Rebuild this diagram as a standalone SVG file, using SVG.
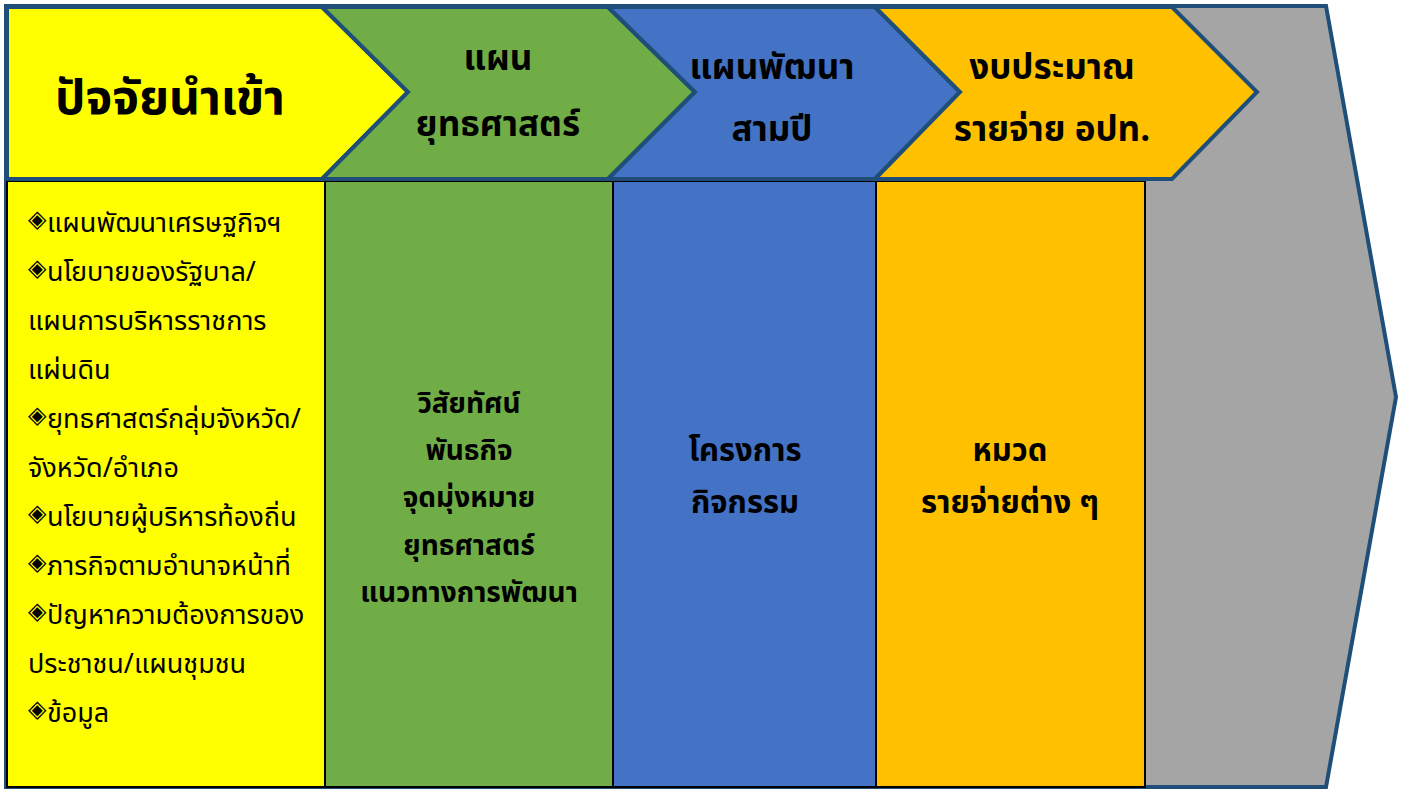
<svg xmlns="http://www.w3.org/2000/svg" width="1406" height="789" viewBox="0 0 1406 789">
<style>
.hd{stroke:#1F4E79;stroke-width:4;stroke-linejoin:miter}
.col{stroke:#000;stroke-width:2}
text{font-family:"Noto Sans Thai","Noto Sans","DejaVu Sans",sans-serif;fill:#000}
.h{font-size:35px;font-weight:bold;text-anchor:middle}
.b{font-size:28px;font-weight:bold;text-anchor:middle}
.b2{font-size:31px;font-weight:bold;text-anchor:middle}
.l{font-size:27px}
.bu{font-size:24px}
</style>
<rect width="1406" height="789" fill="#fff"/>
<g id="big-arrow">
<polygon class="hd" fill="#A5A5A5" points="6,6 1326,6 1396,397 1326,787 6,787"/>
</g>
<g id="col-input">
<rect class="col" fill="#FFFF00" x="7" y="181" width="318" height="606"/>
<text class="bu" x="28" y="227">◈</text>
<text class="l" x="47" y="232">แผนพัฒนาเศรษฐกิจฯ</text>
<text class="bu" x="28" y="276">◈</text>
<text class="l" x="47" y="281">นโยบายของรัฐบาล/</text>
<text class="l" x="28" y="330">แผนการบริหารราชการ</text>
<text class="l" x="28" y="379">แผ่นดิน</text>
<text class="bu" x="28" y="423">◈</text>
<text class="l" x="47" y="428">ยุทธศาสตร์กลุ่มจังหวัด/</text>
<text class="l" x="28" y="477">จังหวัด/อำเภอ</text>
<text class="bu" x="28" y="521">◈</text>
<text class="l" x="47" y="526">นโยบายผู้บริหารท้องถิ่น</text>
<text class="bu" x="28" y="570">◈</text>
<text class="l" x="47" y="575">ภารกิจตามอำนาจหน้าที่</text>
<text class="bu" x="28" y="619">◈</text>
<text class="l" x="47" y="624">ปัญหาความต้องการของ</text>
<text class="l" x="28" y="673">ประชาชน/แผนชุมชน</text>
<text class="bu" x="28" y="717">◈</text>
<text class="l" x="47" y="722">ข้อมูล</text>
</g>
<g id="col-strategy">
<rect class="col" fill="#70AD47" x="325" y="181" width="288" height="606"/>
<text class="b" x="469" y="413">วิสัยทัศน์</text>
<text class="b" x="469" y="460">พันธกิจ</text>
<text class="b" x="469" y="507">จุดมุ่งหมาย</text>
<text class="b" x="469" y="555">ยุทธศาสตร์</text>
<text class="b" x="469" y="602">แนวทางการพัฒนา</text>
</g>
<g id="col-plan">
<rect class="col" fill="#4472C4" x="613" y="181" width="263" height="606"/>
<text class="b2" x="745" y="461">โครงการ</text>
<text class="b2" x="745" y="513">กิจกรรม</text>
</g>
<g id="col-budget">
<rect class="col" fill="#FFC000" x="876" y="181" width="269" height="606"/>
<text class="b2" x="1010" y="461">หมวด</text>
<text class="b2" x="1010" y="513">รายจ่ายต่าง ๆ</text>
</g>
<g id="hdr-input">
<polygon class="hd" fill="#FFFF00" points="7,7 322,7 408,92 322,179 7,179"/>
<text x="170" y="114" style="font-size:48px;font-weight:bold;text-anchor:middle">ปัจจัยนำเข้า</text>
</g>
<g id="hdr-strategy">
<polygon class="hd" fill="#70AD47" points="322,7 608,7 695,92 608,179 322,179 408,92"/>
<text class="h" x="498" y="70">แผน</text>
<text class="h" x="498" y="136">ยุทธศาสตร์</text>
</g>
<g id="hdr-plan">
<polygon class="hd" fill="#4472C4" points="608,7 875,7 960,92 875,179 608,179 695,92"/>
<text class="h" x="772" y="79">แผนพัฒนา</text>
<text class="h" x="772" y="141">สามปี</text>
</g>
<g id="hdr-budget">
<polygon class="hd" fill="#FFC000" points="875,7 1172,7 1257,92 1172,179 875,179 960,92"/>
<text class="h" x="1052" y="79">งบประมาณ</text>
<text class="h" x="1052" y="141">รายจ่าย อปท.</text>
</g>
<g id="connectors"/>
</svg>
